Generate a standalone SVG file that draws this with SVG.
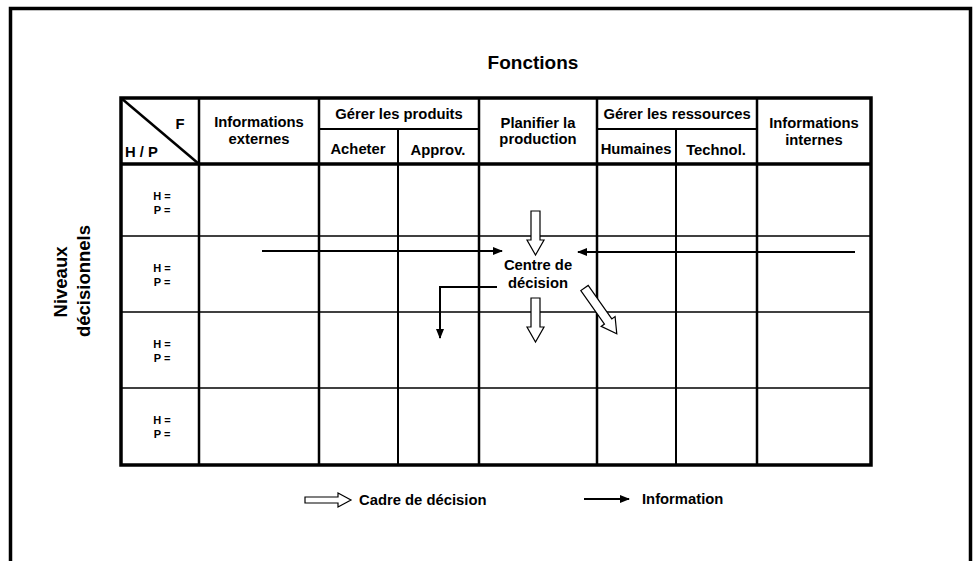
<svg xmlns="http://www.w3.org/2000/svg" width="974" height="561" viewBox="0 0 974 561">
<style>
text{font-family:"Liberation Sans",Arial,sans-serif;font-weight:bold;fill:#000}
.h{font-size:14.8px;text-anchor:middle}
.s{font-size:11px;text-anchor:middle}
.thick{stroke:#000;stroke-width:3.5;fill:none}
.col{stroke:#000;stroke-width:2.5;fill:none}
.sub{stroke:#000;stroke-width:2;fill:none}
.row{stroke:#000;stroke-width:1.5;fill:none}
.info{stroke:#000;stroke-width:2;fill:none}
.cadre{fill:#fff;stroke:#000;stroke-width:1.2}
</style>
<defs>
<marker id="ah" markerWidth="10" markerHeight="8" refX="9" refY="4" orient="auto" markerUnits="userSpaceOnUse">
<path d="M0,0 L10,4 L0,8 Z" fill="#000"/>
</marker>
<path id="hollow" d="M0,-4.5 L29,-4.5 L29,-8.5 L44,0 L29,8.5 L29,4.5 L0,4.5 Z"/>
<path id="hollowLong" d="M0,-4.5 L41,-4.5 L41,-8.5 L56,0 L41,8.5 L41,4.5 L0,4.5 Z"/>
</defs>
<rect width="974" height="561" fill="#fff"/>
<g id="frame">
<path d="M10.5,561 L10.5,8.5 L970.5,8.5 L970.5,561" class="thick" stroke-width="3"/>
</g>
<g id="title">
<text x="533" y="69" font-size="19" text-anchor="middle">Fonctions</text>
<text transform="translate(67,282) rotate(-90)" font-size="18.5" text-anchor="middle">Niveaux</text>
<text transform="translate(90,281) rotate(-90)" font-size="18.5" text-anchor="middle">décisionnels</text>
</g>
<g id="grid">
<line x1="121" y1="98" x2="199" y2="164" class="col" stroke-width="2"/>
<line x1="319" y1="129" x2="479" y2="129" class="sub"/>
<line x1="597" y1="129" x2="757" y2="129" class="sub"/>
<line x1="398" y1="129" x2="398" y2="465" class="sub"/>
<line x1="676" y1="129" x2="676" y2="465" class="sub"/>
<line x1="199" y1="98" x2="199" y2="465" class="col"/>
<line x1="319" y1="98" x2="319" y2="465" class="col"/>
<line x1="479" y1="98" x2="479" y2="465" class="col"/>
<line x1="597" y1="98" x2="597" y2="465" class="col"/>
<line x1="757" y1="98" x2="757" y2="465" class="col"/>
<line x1="121" y1="236" x2="871" y2="236" class="row"/>
<line x1="121" y1="312" x2="871" y2="312" class="row"/>
<line x1="121" y1="388" x2="871" y2="388" class="row"/>
<line x1="121" y1="164" x2="871" y2="164" class="thick" stroke-width="3"/>
<rect x="121" y="98" width="750" height="367" class="thick"/>
</g>
<g id="header">
<text x="180" y="129" class="h">F</text>
<text x="125" y="157" font-size="14.8">H / P</text>
<text x="259" y="127" class="h">Informations</text>
<text x="259" y="144" class="h">externes</text>
<text x="399" y="119" class="h">Gérer les produits</text>
<text x="358" y="154" class="h">Acheter</text>
<text x="438" y="155" class="h">Approv.</text>
<text x="538" y="128" class="h">Planifier la</text>
<text x="538" y="144" class="h">production</text>
<text x="677" y="119" class="h">Gérer les ressources</text>
<text x="636" y="154" class="h">Humaines</text>
<text x="716" y="155" class="h">Technol.</text>
<text x="814" y="128" class="h">Informations</text>
<text x="814" y="145" class="h">internes</text>
</g>
<g id="levels">
<text x="162" y="200" class="s">H =</text><text x="162" y="214" class="s">P =</text>
<text x="162" y="272" class="s">H =</text><text x="162" y="286" class="s">P =</text>
<text x="162" y="348" class="s">H =</text><text x="162" y="362" class="s">P =</text>
<text x="162" y="424" class="s">H =</text><text x="162" y="438" class="s">P =</text>
</g>
<g id="centre">
<text x="538" y="270" class="h">Centre de</text>
<text x="538" y="288" class="h">décision</text>
</g>
<g id="connectors">
<line x1="262" y1="251" x2="502" y2="251" class="info" marker-end="url(#ah)"/>
<line x1="855" y1="252" x2="578" y2="252" class="info" marker-end="url(#ah)"/>
<polyline points="497,287 440,287 440,338" class="info" marker-end="url(#ah)"/>
<use href="#hollow" class="cadre" transform="translate(535.5,211) rotate(90)"/>
<use href="#hollow" class="cadre" transform="translate(535.5,298) rotate(90)"/>
<use href="#hollowLong" class="cadre" transform="translate(584.5,288) rotate(54.8)"/>
</g>
<g id="legend">
<path d="M305,497 L338,497 L338,493 L351,500 L338,507 L338,503 L305,503 Z" class="cadre"/>
<text x="359" y="505" font-size="14.8">Cadre de décision</text>
<line x1="584" y1="499" x2="629" y2="499" class="info" marker-end="url(#ah)"/>
<text x="642" y="504" font-size="14.8">Information</text>
</g>
</svg>
